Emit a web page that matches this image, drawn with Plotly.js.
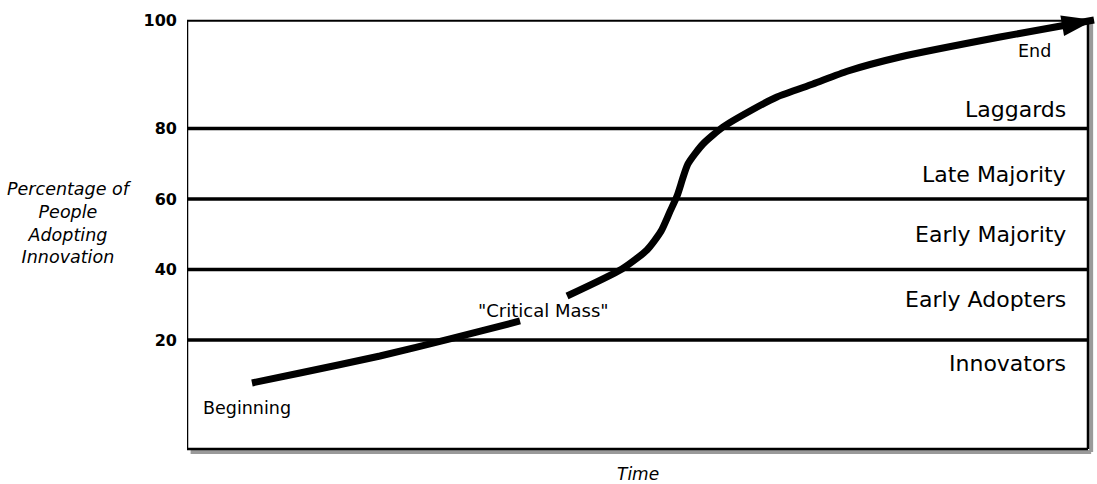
<!DOCTYPE html>
<html><head><meta charset="utf-8">
<script src="https://cdn.plot.ly/plotly-3.0.1.min.js"></script>
<style>html,body{margin:0;padding:0;background:#fff}#chart{width:1097px;height:484px}</style>
</head><body><div id="chart"></div>
<script>
// Time (0 = left edge of frame, 100 = right edge)
const timeT = [7.21, 12.54, 21.42, 29.19, 36.96, null, 42.18, 48.28, 51.05, 52.60, 53.60, 54.40, 55.60, 57.27, 59.49, 62.49, 65.48, 69.48, 73.36, 79.13, 90.23, 100.67];
// Adoption, in axis units (20/40/60/80 lines are linear; the "100" label sits at the top of the frame)
const adoption = [7.83, 10.66, 15.48, 20.30, 25.41, null, 32.49, 40.15, 45.54, 50.80, 56.40, 60.90, 69.92, 75.59, 80.41, 84.95, 88.92, 92.60, 96.29, 100.26, 105.93, 110.75];
const bandBounds = [20, 40, 60, 80];
const tickPositions = [20, 40, 60, 80, 110.5];
const tickLabels = ['20', '40', '60', '80', '100'];
const bandNames = ['Innovators', 'Early Adopters', 'Early Majority', 'Late Majority', 'Laggards'];
const frameLeft = 0, frameRight = 100, frameBottom = -10.9, frameTop = 110.5;

const FONT = 'DejaVu Sans, Verdana, sans-serif';
const markerSizes = adoption.map((v, i) => i === adoption.length - 1 ? 34 : 0);

const curve = {
  x: timeT, y: adoption, type: 'scatter', mode: 'lines+markers',
  connectgaps: false, cliponaxis: false, hoverinfo: 'skip',
  line: {color: '#000', width: 7, shape: 'spline', smoothing: 0.6, backoff: 'auto'},
  marker: {symbol: 'arrow', size: markerSizes, angleref: 'previous', color: '#000', opacity: 1, line: {width: 0}}
};

const shapes = [];
// shadow
shapes.push({type: 'line', xref: 'x', yref: 'y', x0: frameLeft + 0.4, x1: frameRight + 0.35, y0: frameBottom - 0.85, y1: frameBottom - 0.85, line: {color: '#9a9a9a', width: 4}, layer: 'below'});
shapes.push({type: 'line', xref: 'x', yref: 'y', x0: frameRight + 0.35, x1: frameRight + 0.35, y0: frameBottom - 0.85, y1: frameTop - 0.3, line: {color: '#9a9a9a', width: 4}, layer: 'below'});
// band lines
bandBounds.forEach(b => shapes.push({type: 'line', xref: 'x', yref: 'y', x0: frameLeft, x1: frameRight, y0: b, y1: b, line: {color: '#000', width: 3.5}, layer: 'below'}));
// frame
shapes.push({type: 'line', xref: 'x', yref: 'y', x0: frameLeft, x1: frameRight, y0: frameTop, y1: frameTop, line: {color: '#000', width: 2}, layer: 'below'});
shapes.push({type: 'line', xref: 'x', yref: 'y', x0: frameLeft, x1: frameLeft, y0: frameBottom, y1: frameTop, line: {color: '#000', width: 2.5}, layer: 'below'});
shapes.push({type: 'line', xref: 'x', yref: 'y', x0: frameLeft, x1: frameRight, y0: frameBottom, y1: frameBottom, line: {color: '#000', width: 2.5}, layer: 'below'});
shapes.push({type: 'line', xref: 'x', yref: 'y', x0: frameRight, x1: frameRight, y0: frameBottom, y1: frameTop, line: {color: '#000', width: 2.5}, layer: 'below'});

const bandLabelY = {Innovators: 13.36, 'Early Adopters': 31.36, 'Early Majority': 49.8, 'Late Majority': 66.94, Laggards: 85.5};
const annotations = bandNames.map(nm => ({
  text: nm, xref: 'x', yref: 'y', x: 97.8, y: bandLabelY[nm], xanchor: 'right', yanchor: 'middle',
  showarrow: false, font: {family: FONT, size: 22, color: '#000'}
}));
annotations.push({text: 'End', xref: 'x', yref: 'y', x: 96.1, y: 101.96, xanchor: 'right', yanchor: 'middle', showarrow: false, font: {family: FONT, size: 17.5, color: '#000'}});
annotations.push({text: 'Beginning', xref: 'x', yref: 'y', x: 1.5, y: 0.74, xanchor: 'left', yanchor: 'middle', showarrow: false, font: {family: FONT, size: 17.5, color: '#000'}});
annotations.push({text: '"Critical Mass"', xref: 'x', yref: 'y', x: 39.6, y: 28.5, xanchor: 'center', yanchor: 'middle', showarrow: false, font: {family: FONT, size: 18, color: '#000'}});
annotations.push({text: '<i>Percentage of<br>People<br>Adopting<br>Innovation</i>', xref: 'paper', yref: 'y', x: -0.1286, y: 53.19, xanchor: 'center', yanchor: 'middle', align: 'center', showarrow: false, font: {family: FONT, size: 17.5, color: '#000'}});
annotations.push({text: '<i>Time</i>', xref: 'x', yref: 'paper', x: 50.05, y: -0.042, xanchor: 'center', yanchor: 'middle', showarrow: false, font: {family: FONT, size: 17, color: '#000'}});

const layout = {
  width: 1097, height: 484,
  margin: {l: 187, r: 0, t: 5, b: 29},
  paper_bgcolor: '#fff', plot_bgcolor: '#fff',
  showlegend: false,
  xaxis: {range: [0, 101], visible: false, fixedrange: true},
  yaxis: {range: [-12.6, 115], tickvals: tickPositions, ticktext: tickLabels, showgrid: false, zeroline: false, showline: false,
          ticks: '', ticklabelstandoff: 9, tickfont: {family: FONT, size: 16, weight: 'bold', color: '#000'}, fixedrange: true},
  shapes: shapes, annotations: annotations
};

Plotly.newPlot('chart', [curve], layout, {displayModeBar: false, staticPlot: true});
</script></body></html>
